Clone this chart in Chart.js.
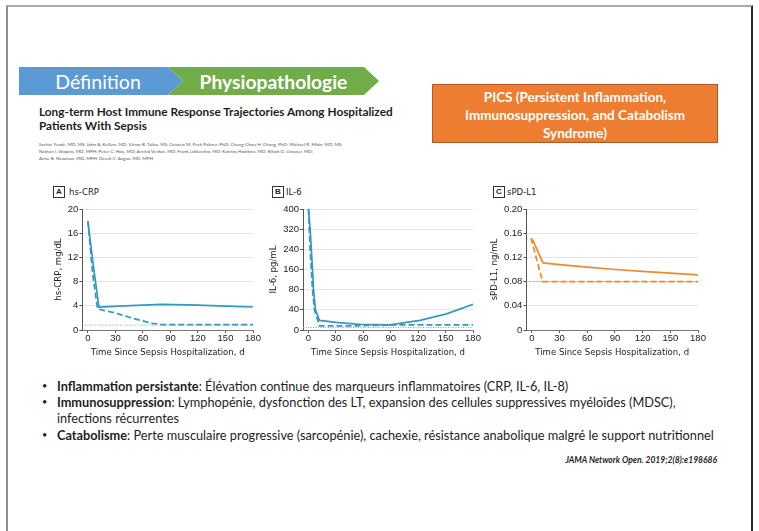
<!DOCTYPE html>
<html>
<head>
<meta charset="utf-8">
<script src="https://cdn.jsdelivr.net/npm/chart.js@4.4.0/dist/chart.umd.min.js"></script>
<style>
html, body { margin: 0; padding: 0; background: #fff; width: 759px; height: 531px; overflow: hidden; font-family: Lato, "Open Sans", sans-serif; }
.abs { position: absolute; white-space: nowrap; }
.frame { position: absolute; left: 6px; top: 5px; width: 743px; height: 540px; border-left: 2px solid #8e8e8e; border-top: 2px solid #a8a8a8; border-right: 2px solid #2a2a2a; }
.chev { position: absolute; top: 67px; height: 28px; color: #fff; display: flex; align-items: center; justify-content: center; }
.blue { left: 19px; width: 164px; background: #5b9bd5; clip-path: polygon(0 0, 149px 0, 164px 14px, 149px 28px, 0 28px); font-size: 19.5px; padding-right: 6px; box-sizing: border-box; }
.green { left: 168px; width: 211px; background: #70ad47; clip-path: polygon(0 0, 196px 0, 211px 14px, 196px 28px, 0 28px, 15px 14px); font-size: 19.3px; font-weight: bold; box-sizing: border-box; }
.title { left: 39px; font-size: 11.8px; font-weight: bold; color: #1e1e1e; line-height: 14px; }
.authors { left: 39px; font-size: 4.6px; color: #555; line-height: 7px; }
.pics { left: 432px; top: 84px; width: 286px; height: 59px; background: #ed7d31; border: 1px solid #b05a20; box-sizing: border-box; color: #fff; font-weight: bold; font-size: 13.5px; line-height: 18px; text-align: center; padding-top: 3px; white-space: normal; }
.tag { position: absolute; width: 10px; height: 10px; border: 1px solid #333; font: bold 8px "Liberation Sans", sans-serif; color: #222; text-align: center; line-height: 10px; }
.ptitle { position: absolute; font: 9.5px "Liberation Sans Narrow", "DejaVu Sans Condensed", sans-serif; color: #222; }
.bul { font-size: 12.75px; color: #1e1e1e; }
.dot { font-size: 9px; color: #1e1e1e; line-height: 16px; }
canvas { position: absolute; }
.cite { right: 42px; top: 455px; font-size: 8.5px; font-style: italic; font-weight: bold; color: #1e1e1e; }
</style>
</head>
<body>
<div class="frame"></div>
<div class="chev blue">Définition</div>
<div class="chev green">Physiopathologie</div>
<div class="abs title" style="top:105px">Long-term Host Immune Response Trajectories Among Hospitalized<br>Patients With Sepsis</div>
<div class="abs authors" style="top:141px">Sachin Yende, MD, MS; John A. Kellum, MD; Victor B. Talisa, MS; Octavia M. Peck Palmer, PhD; Chung-Chou H. Chang, PhD; Michael R. Filbin, MD, MS;<br>Nathan I. Shapiro, MD, MPH; Peter C. Hou, MD; Arvind Venkat, MD; Frank LoVecchio, MD; Katrina Hawkins, MD; Elliott D. Crouser, MD;<br>Anne B. Newman, MD, MPH; Derek C. Angus, MD, MPH</div>
<div class="abs pics">PICS (Persistent Inflammation, Immunosuppression, and Catabolism Syndrome)</div>

<div class="tag" style="left:53px;top:186px">A</div><div class="ptitle" style="left:69px;top:186px">hs-CRP</div>
<div class="tag" style="left:272px;top:186px">B</div><div class="ptitle" style="left:286px;top:186px">IL-6</div>
<div class="tag" style="left:493px;top:186px">C</div><div class="ptitle" style="left:507px;top:186px">sPD-L1</div>

<canvas id="crpChart"></canvas>
<canvas id="il6Chart"></canvas>
<canvas id="pdl1Chart"></canvas>

<div class="abs dot" style="left:42px;top:378px">•</div>
<div class="abs bul" style="left:57px;top:378px"><b>Inflammation persistante</b>: Élévation continue des marqueurs inflammatoires (CRP, IL-6, IL-8)</div>
<div class="abs dot" style="left:42px;top:394px">•</div>
<div class="abs bul" style="left:57px;top:394px"><b>Immunosuppression</b>: Lymphopénie, dysfonction des LT, expansion des cellules suppressives myéloïdes (MDSC),</div>
<div class="abs bul" style="left:57px;top:410px">infections récurrentes</div>
<div class="abs dot" style="left:42px;top:427px">•</div>
<div class="abs bul" style="left:57px;top:427px"><b>Catabolisme</b>: Perte musculaire progressive (sarcopénie), cachexie, résistance anabolique malgré le support nutritionnel</div>
<div class="abs cite">JAMA Network Open. 2019;2(8):e198686</div>

<script>
// x axis (days since hospitalization)
const dayTicks = [0, 30, 60, 90, 120, 150, 180];
const dayMin = -6;

// A: hs-CRP, mg/dL
const crpTicks = [0, 2, 4, 6, 8, 10, 12, 14, 16, 18, 20];
const crpSolidDays = [0, 6, 12, 40, 80, 120, 150, 180];
const crpSolid = [18, 10.5, 3.8, 4.0, 4.25, 4.1, 3.95, 3.8];
const crpDashedDays = [0, 5, 10.5, 30, 50, 70, 80, 180];
const crpDashed = [18, 9.5, 3.5, 2.8, 1.9, 1.1, 0.9, 0.9];
const crpRef = 0.8;

// B: IL-6, pg/mL (axis is stretched below 80)
const il6Ticks = [0, 40, 80, 160, 240, 320, 400];
const il6SolidDays = [0, 1.8, 4.4, 5.5, 7.6, 12, 30, 56, 89, 122, 151, 180];
const il6Solid = [400, 320, 160, 80, 40, 19, 15, 11, 10, 19, 32, 51];
const il6DashedDays = [0, 1.8, 4.4, 6.5, 12, 40, 70, 100, 180];
const il6Dashed = [400, 240, 80, 40, 8, 8, 9, 10, 10];
const il6Ref = 5;

// C: sPD-L1, ng/mL
const pdl1Ticks = [0, 0.04, 0.08, 0.12, 0.16, 0.20];
const pdl1SolidDays = [0.5, 12, 30, 60, 90, 120, 150, 180];
const pdl1Solid = [0.150, 0.111, 0.108, 0.104, 0.100, 0.097, 0.094, 0.091];
const pdl1DashedDays = [-1, 11.5, 180];
const pdl1Dashed = [0.152, 0.080, 0.080];
const pdl1Ref = 0.08;

const blue = '#3399bf';
const orange = '#f0892c';
const narrow = "'Liberation Sans Narrow', 'DejaVu Sans Condensed', sans-serif";

// piecewise y scale for IL-6: 0-80 takes two steps, then 80 per step
const il6Map = v => v <= 80 ? v / 40 : 2 + (v - 80) / 80;
const il6Unmap = t => t <= 2 ? t * 40 : 80 + (t - 2) * 80;
class BrokenScale extends Chart.LinearScale {
    getPixelForValue(value) {
        const a = il6Map(this.min), b = il6Map(this.max);
        return this.getPixelForDecimal((il6Map(value) - a) / (b - a));
    }
    getValueForPixel(pixel) {
        const a = il6Map(this.min), b = il6Map(this.max);
        return il6Unmap(a + this.getDecimalForPixel(pixel) * (b - a));
    }
}
BrokenScale.id = 'broken';
BrokenScale.defaults = Chart.LinearScale.defaults;
Chart.register(BrokenScale);

const pts = (xs, ys) => xs.map((x, i) => ({x: x, y: ys[i]}));

makeSets = (color, sd, sv, dd, dv, ref) => [
    {data: pts(sd, sv), borderColor: color, borderWidth: 1.7},
    {data: pts(dd, dv), borderColor: color, borderWidth: 1.7, borderDash: [6, 3]},
    {data: pts([dayMin, 180], [ref, ref]), borderColor: '#9a9a9a', borderWidth: 1, borderDash: [1, 1.5]}
];

makePanel = (id, geo, yCfg, datasets) => {
    let canvas = document.getElementById(id);
    const yW = geo.axisX - (geo.titleX - 5.7);
    const left = geo.axisX - yW - 4;
    const top = 200;
    canvas.width = geo.right - left + 10;
    canvas.height = geo.bottom - top + 30;
    canvas.style.left = left + 'px';
    canvas.style.top = top + 'px';

    new Chart(canvas.getContext('2d'), {
        type: 'line',
        data: {datasets: datasets},
        options: {
            responsive: false,
            animation: false,
            layout: {padding: {left: 4, top: geo.top - top, right: 10, bottom: 0}},
            plugins: {legend: {display: false}, tooltip: {enabled: false}},
            elements: {point: {radius: 0}, line: {tension: 0}},
            scales: {
                x: {
                    type: 'linear', min: dayMin, max: 180,
                    afterBuildTicks: ax => { ax.ticks = dayTicks.map(v => ({value: v})); },
                    afterFit: ax => { ax.height = 30; },
                    grid: {drawOnChartArea: false, tickLength: 3, tickColor: '#555'},
                    border: {color: '#777'},
                    ticks: {font: {family: "'Liberation Sans', sans-serif", size: 9.5}, color: '#222', padding: 0, maxRotation: 0, autoSkip: false},
                    title: {display: true, text: 'Time Since Sepsis Hospitalization, d', font: {family: narrow, size: 9.5}, color: '#222', padding: {top: 0, bottom: 2}}
                },
                y: {
                    type: yCfg.type, min: 0, max: yCfg.ticks[yCfg.ticks.length - 1],
                    afterBuildTicks: ax => { ax.ticks = yCfg.ticks.map(v => ({value: v})); },
                    afterFit: ax => { ax.width = yW; },
                    grid: {color: '#e4e4e4', tickLength: 3, tickColor: '#555'},
                    border: {color: '#555'},
                    ticks: {font: {family: "'Liberation Sans', sans-serif", size: 9.5}, color: '#222', padding: 1, callback: yCfg.fmt},
                    title: {display: true, text: yCfg.title, font: {family: narrow, size: 9.5}, color: '#222', padding: {top: 0, bottom: 0}}
                }
            }
        }
    });
}

makePanel('crpChart', {axisX: 82, titleX: 58.3, top: 209, bottom: 330, right: 253},
    {type: 'linear', ticks: crpTicks, title: 'hs-CRP, mg/dL', fmt: v => String(v)},
    makeSets(blue, crpSolidDays, crpSolid, crpDashedDays, crpDashed, crpRef));

makePanel('il6Chart', {axisX: 303.3, titleX: 274, top: 209, bottom: 330, right: 473.3},
    {type: 'broken', ticks: il6Ticks, title: 'IL-6, pg/mL', fmt: v => String(v)},
    makeSets(blue, il6SolidDays, il6Solid, il6DashedDays, il6Dashed, il6Ref));

makePanel('pdl1Chart', {axisX: 526.7, titleX: 495, top: 209, bottom: 330, right: 699.3},
    {type: 'linear', ticks: pdl1Ticks, title: 'sPD-L1, ng/mL', fmt: v => v === 0 ? '0' : v.toFixed(2)},
    makeSets(orange, pdl1SolidDays, pdl1Solid, pdl1DashedDays, pdl1Dashed, pdl1Ref));
</script>
</body>
</html>
